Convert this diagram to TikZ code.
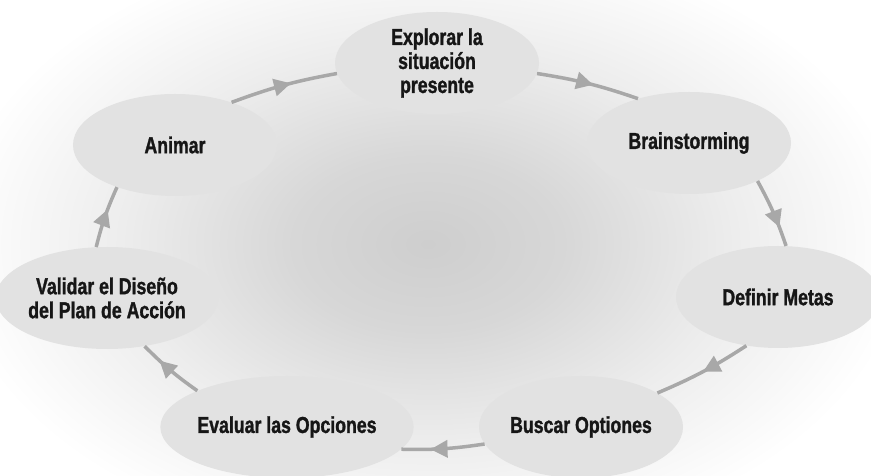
\documentclass[tikz,border=0pt]{standalone}
\usepackage{fontspec}
\usetikzlibrary{shapes.geometric,arrows.meta,decorations.markings}
\newfontfamily\cyclefont{Liberation Sans}[FakeStretch=0.77, BoldFeatures={FakeBold=1.3}]

\definecolor{glowA}{RGB}{206,206,206}
\definecolor{glowB}{RGB}{215,215,215}
\definecolor{glowC}{RGB}{237,237,237}
\definecolor{ellfill}{RGB}{226,226,226}
\definecolor{linkgray}{RGB}{168,168,168}
\definecolor{inkdark}{RGB}{22,22,22}

% soft grey glow behind the cycle; radius 25bp is the edge of the shaded path
\pgfdeclareradialshading{bgglow}{\pgfpoint{0bp}{0bp}}{%
  color(0bp)=(glowA); color(7bp)=(glowB); color(16bp)=(glowC);
  color(25bp)=(white); color(50bp)=(white)}

\tikzset{
  stage/.style={ellipse, fill=ellfill, minimum width=204pt, minimum height=102pt,
    inner sep=0pt, align=center, text=inkdark,
    font=\cyclefont\bfseries\fontsize{23}{24}\selectfont},
  link/.style={draw=linkgray, line width=3.5pt, bend left=5,
    postaction={decorate},
    decoration={markings, mark=at position #1 with
      {\arrow[linkgray]{Triangle[length=17pt,width=17pt]}}}},
  link/.default=0.55
}

\begin{document}
\begin{tikzpicture}[x=1pt,y=1pt]
  \useasboundingbox (0,0) rectangle (871,476);
  \fill[white] (0,0) rectangle (871,476);
  \begin{scope}
    \clip (0,0) rectangle (871,476);
    \shade[shading=bgglow] (428,232) ellipse [x radius=480, y radius=310];
  \end{scope}

  % stages of the cycle
  \node[stage] (expl)  at (437,413) {Explorar la\\situación\\presente};
  \node[stage] (brain) at (689,333) {Brainstorming};
  \node[stage] (def)   at (778,179) {Definir Metas};
  \node[stage] (busc)  at (581,49)  {Buscar Optiones};
  \node[stage] (eval)  at (287,49)  {Evaluar las Opciones};
  \node[stage] (valid) at (107,178) {Validar el Diseño\\del Plan de Acción};
  \node[stage] (anim)  at (175,331) {Animar};

  % clockwise connectors
  \draw[link=0.57] (anim.37)   to (expl.186);
  \draw[link=0.55] (expl.-6)   to (brain.139);
  \draw[link=0.72] (brain.-29) to (def.81);
  \draw[link=0.50] (def.237)   to (busc.24);
  \draw[link=0.65] (busc.190)  to (eval.-11);
  \draw[link=0.70] (eval.158)  to (valid.-52);
  \draw[link=0.62] (valid.102) to (anim.216);
\end{tikzpicture}
\end{document}
